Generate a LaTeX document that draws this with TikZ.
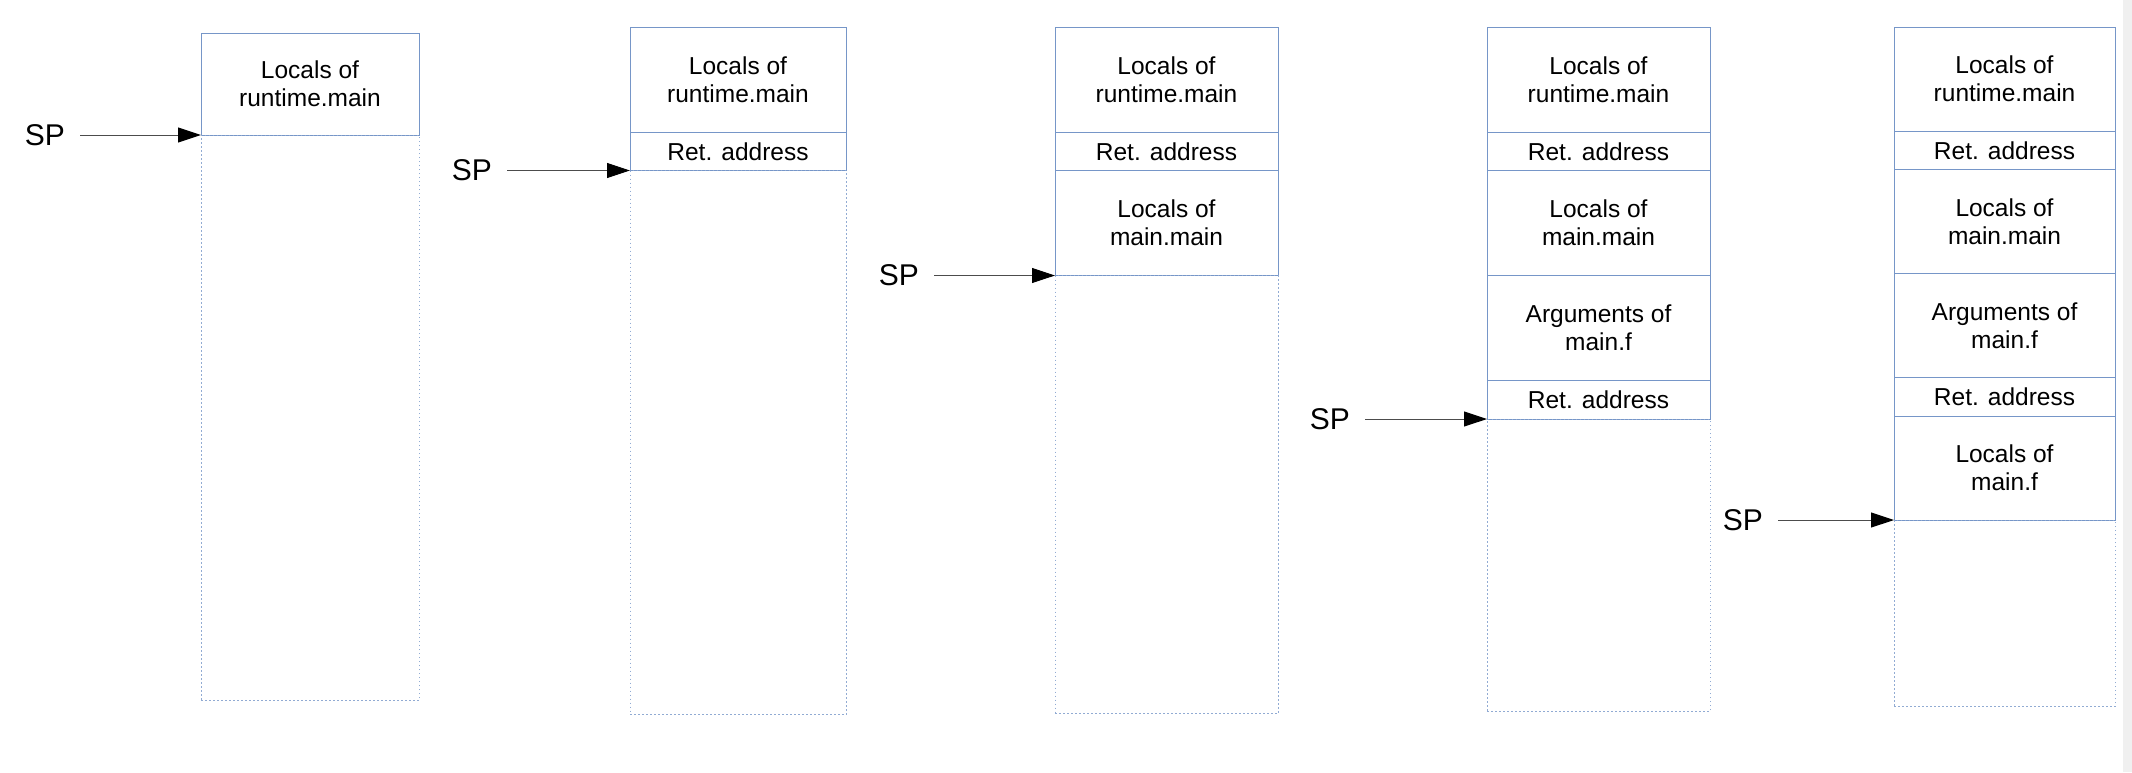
\documentclass[tikz,border=0pt]{standalone}
\usepackage{fontspec}
\setmainfont{Liberation Sans}
\usetikzlibrary{positioning, arrows.meta}
\definecolor{frameblue}{RGB}{118, 150, 200}
\definecolor{bargray}{RGB}{240, 240, 240}
\tikzset{
  cell/.style={
    draw=frameblue, line width=1pt,
    anchor=north,
    inner sep=0pt, outer sep=0pt,
    font=\fontsize{24.5}{28}\selectfont,
    align=center
  },
  bigcell/.style={cell, minimum height=105pt},
  smallcell/.style={cell, minimum height=38.5pt},
  freecell/.style={cell, draw=frameblue!80, dash pattern=on 1.5pt off 2.5pt},
  sptext/.style={font=\fontsize{30}{36}\selectfont, inner sep=0pt, anchor=east},
  sparrow/.style={-{Triangle[length=23pt, width=15pt, color=black]}, line width=1pt, black!70, shorten <=15pt}
}

\begin{document}
\begin{tikzpicture}[x=1pt, y=-1pt]

\useasboundingbox (0,0) rectangle (2132,772);
\fill[bargray] (2123,0) rectangle (2132,772);

% Stack 1
\begin{scope}[cell/.append style={minimum width=218pt}]
\node[bigcell, minimum height=102pt, anchor=north west] (rmA) at (201,33) {Locals of\\runtime.main};
\node[freecell, minimum height=565pt, below=0pt of rmA] (freeA) {};
\end{scope}
\node[sptext, left=136pt of freeA.north west] (spA) {SP};
\draw[sparrow] (spA) -- (freeA.north west);

% Stack 2
\begin{scope}[cell/.append style={minimum width=216pt}]
\node[bigcell, anchor=north west] (rmB) at (630,27) {Locals of\\runtime.main};
\node[smallcell, below=0pt of rmB] (retB) {Ret. address};
\node[freecell, minimum height=544pt, below=0pt of retB] (freeB) {};
\end{scope}
\node[sptext, left=138pt of freeB.north west] (spB) {SP};
\draw[sparrow] (spB) -- (freeB.north west);

% Stack 3
\begin{scope}[cell/.append style={minimum width=223pt}]
\node[bigcell, anchor=north west] (rmC) at (1055,27) {Locals of\\runtime.main};
\node[smallcell, below=0pt of rmC] (retC) {Ret. address};
\node[bigcell, below=0pt of retC] (mmC) {Locals of\\main.main};
\node[freecell, minimum height=438pt, below=0pt of mmC] (freeC) {};
\end{scope}
\node[sptext, left=136pt of freeC.north west] (spC) {SP};
\draw[sparrow] (spC) -- (freeC.north west);

% Stack 4
\begin{scope}[cell/.append style={minimum width=223pt}]
\node[bigcell, anchor=north west] (rmD) at (1487,27) {Locals of\\runtime.main};
\node[smallcell, below=0pt of rmD] (retD) {Ret. address};
\node[bigcell, below=0pt of retD] (mmD) {Locals of\\main.main};
\node[bigcell, below=0pt of mmD] (argD) {Arguments of\\main.f};
\node[smallcell, below=0pt of argD] (ret2D) {Ret. address};
\node[freecell, minimum height=292pt, below=0pt of ret2D] (freeD) {};
\end{scope}
\node[sptext, left=137pt of freeD.north west] (spD) {SP};
\draw[sparrow] (spD) -- (freeD.north west);

% Stack 5
\begin{scope}[cell/.append style={minimum width=221pt}, bigcell/.append style={minimum height=104pt}]
\node[bigcell, anchor=north west] (rmE) at (1894,27) {Locals of\\runtime.main};
\node[smallcell, below=0pt of rmE] (retE) {Ret. address};
\node[bigcell, below=0pt of retE] (mmE) {Locals of\\main.main};
\node[bigcell, below=0pt of mmE] (argE) {Arguments of\\main.f};
\node[smallcell, below=0pt of argE] (ret2E) {Ret. address};
\node[bigcell, below=0pt of ret2E] (mfE) {Locals of\\main.f};
\node[freecell, minimum height=186pt, below=0pt of mfE] (freeE) {};
\end{scope}
\node[sptext, left=131pt of freeE.north west] (spE) {SP};
\draw[sparrow] (spE) -- (freeE.north west);

\end{tikzpicture}
\end{document}
